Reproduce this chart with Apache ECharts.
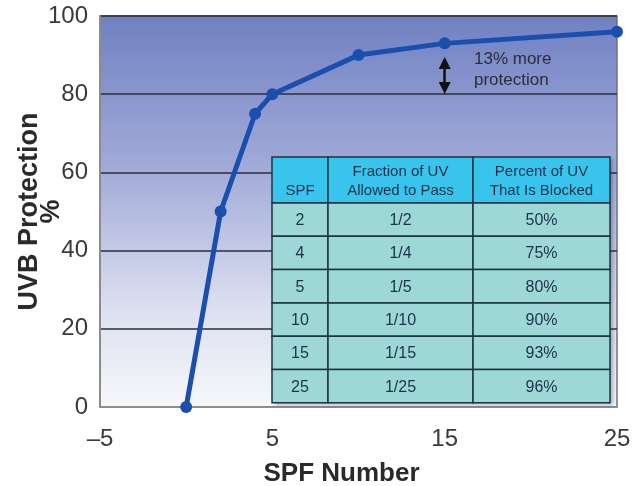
<!DOCTYPE html>
<html>
<head>
<meta charset="utf-8">
<script src="https://cdn.jsdelivr.net/npm/echarts@6/dist/echarts.min.js"></script>
<style>
  html, body { margin: 0; padding: 0; background: #ffffff; }
  #chart { width: 638px; height: 486px; }
</style>
</head>
<body>
<div id="chart"></div>
<script>
// SPF number vs. share of UVB blocked
const spfNumbers = [0, 2, 4, 5, 10, 15, 25];
const uvbProtection = [0, 50, 75, 80, 90, 93, 96];
const xTickLabels = [-5, 5, 15, 25];

// Inset table
const tableHeader = ['SPF', 'Fraction of UV\nAllowed to Pass', 'Percent of UV\nThat Is Blocked'];
const tableSpf = ['2', '4', '5', '10', '15', '25'];
const tableFraction = ['1/2', '1/4', '1/5', '1/10', '1/15', '1/25'];
const tableBlocked = ['50%', '75%', '80%', '90%', '93%', '96%'];

// Callout between SPF 15 and SPF 5 levels
const noteText = '13% more\nprotection';
const noteX = 15;
const noteSpan = [81.6, 88];

const FONT = '"Liberation Sans", Arial, Helvetica, sans-serif';

const chart = echarts.init(document.getElementById('chart'), null, { renderer: 'canvas' });

// table layout (pixels)
const tblCols = [272, 328, 473, 610];
const tblTop = 157;
const tblHeaderH = 46;
const tblRowH = 33.3;
const tblBorder = '#1c3442';
const tblText = '#1d3148';
const TBL_Z = 100;

function buildTable() {
  const elements = [];
  const totalH = tblHeaderH + tblRowH * tableSpf.length;
  // soft shadow behind the table
  elements.push({
    type: 'rect', z: TBL_Z,
    shape: { x: tblCols[0], y: tblTop, width: tblCols[3] - tblCols[0], height: totalH },
    style: { fill: '#9ed8d6', shadowColor: 'rgba(40,40,60,0.35)', shadowBlur: 4, shadowOffsetX: 3, shadowOffsetY: 2 }
  });
  // header cells
  for (let c = 0; c < 3; c++) {
    elements.push({
      type: 'rect', z: TBL_Z + 1,
      shape: { x: tblCols[c], y: tblTop, width: tblCols[c + 1] - tblCols[c], height: tblHeaderH },
      style: { fill: '#38c4ec', stroke: tblBorder, lineWidth: 1.5 }
    });
    const two = tableHeader[c].indexOf('\n') >= 0;
    elements.push({
      type: 'text', z: TBL_Z + 2,
      x: (tblCols[c] + tblCols[c + 1]) / 2,
      y: two ? tblTop + tblHeaderH / 2 + 1 : tblTop + 34,
      style: {
        text: tableHeader[c], fill: tblText, font: '15px ' + FONT,
        align: 'center', verticalAlign: 'middle', lineHeight: 19
      }
    });
  }
  // body cells
  const cols = [tableSpf, tableFraction, tableBlocked];
  for (let r = 0; r < tableSpf.length; r++) {
    const y0 = tblTop + tblHeaderH + r * tblRowH;
    for (let c = 0; c < 3; c++) {
      elements.push({
        type: 'rect', z: TBL_Z + 1,
        shape: { x: tblCols[c], y: y0, width: tblCols[c + 1] - tblCols[c], height: tblRowH },
        style: { fill: '#9ed8d6', stroke: tblBorder, lineWidth: 1.5 }
      });
      elements.push({
        type: 'text', z: TBL_Z + 2,
        x: (tblCols[c] + tblCols[c + 1]) / 2,
        y: y0 + tblRowH / 2 + 1,
        style: {
          text: cols[c][r], fill: tblText, font: '16px ' + FONT,
          align: 'center', verticalAlign: 'middle'
        }
      });
    }
  }
  return elements;
}

const option = {
  animation: false,
  backgroundColor: '#ffffff',
  grid: {
    left: 100, right: 21, top: 16, bottom: 79,
    containLabel: false,
    outerBoundsMode: 'none',
    show: true,
    borderColor: '#6e7186',
    borderWidth: 1.5,
    backgroundColor: new echarts.graphic.LinearGradient(0, 0, 0, 1, [
      { offset: 0, color: '#7080c2' },
      { offset: 0.4, color: '#a3acd9' },
      { offset: 0.75, color: '#dce0ef' },
      { offset: 1, color: '#f7f8fb' }
    ])
  },
  xAxis: {
    type: 'value',
    min: -5, max: 25, interval: 5,
    name: 'SPF Number',
    nameLocation: 'middle',
    nameGap: 54,
    nameMoveOverlap: false,
    nameTextStyle: { fontFamily: FONT, fontSize: 26, fontWeight: 'bold', color: '#2a2a2a', padding: [0, 34, 0, 0] },
    axisLine: { show: true, onZero: false, lineStyle: { color: '#8c8c8c', width: 2 } },
    axisTick: { show: false },
    splitLine: { show: false },
    axisLabel: {
      fontFamily: FONT, fontSize: 24, color: '#3a3a3a', margin: 20,
      formatter: function (v) {
        if (xTickLabels.indexOf(v) < 0) return '';
        return v < 0 ? '\u2013' + Math.abs(v) : String(v);
      }
    }
  },
  yAxis: {
    type: 'value',
    min: 0, max: 100, interval: 20,
    name: 'UVB Protection\n%',
    nameLocation: 'middle',
    nameRotate: 90,
    nameGap: 37,
    nameMoveOverlap: false,
    nameTextStyle: { fontFamily: FONT, fontSize: 27, fontWeight: 'bold', color: '#2a2a2a', lineHeight: 22 },
    axisLine: { show: true, onZero: false, lineStyle: { color: '#8c8c8c', width: 2 } },
    axisTick: { show: false },
    splitLine: { show: true, showMinLine: false, lineStyle: { color: '#2b2d3a', width: 1.5 } },
    axisLabel: { fontFamily: FONT, fontSize: 24, color: '#3a3a3a', margin: 12 }
  },
  series: [{
    type: 'line',
    data: spfNumbers.map((x, i) => [x, uvbProtection[i]]),
    symbol: 'circle',
    symbolSize: 12,
    lineStyle: { color: '#1b4fae', width: 5 },
    itemStyle: { color: '#1b4fae' },
    z: 5,
    markLine: {
      silent: true,
      symbol: ['triangle', 'triangle'],
      symbolSize: [12, 12],
      label: { show: false },
      lineStyle: { color: '#111111', width: 2.5, type: 'solid' },
      data: [[{ coord: [noteX, noteSpan[0]] }, { coord: [noteX, noteSpan[1]] }]]
    }
  }],
  graphic: buildTable().concat([
    {
      type: 'text',
      left: 474, top: 49, z: 40,
      style: { text: noteText, fill: '#2a2d3c', font: '17px ' + FONT, lineHeight: 21, align: 'left' }
    }
  ])
};

chart.setOption(option);
</script>
</body>
</html>
